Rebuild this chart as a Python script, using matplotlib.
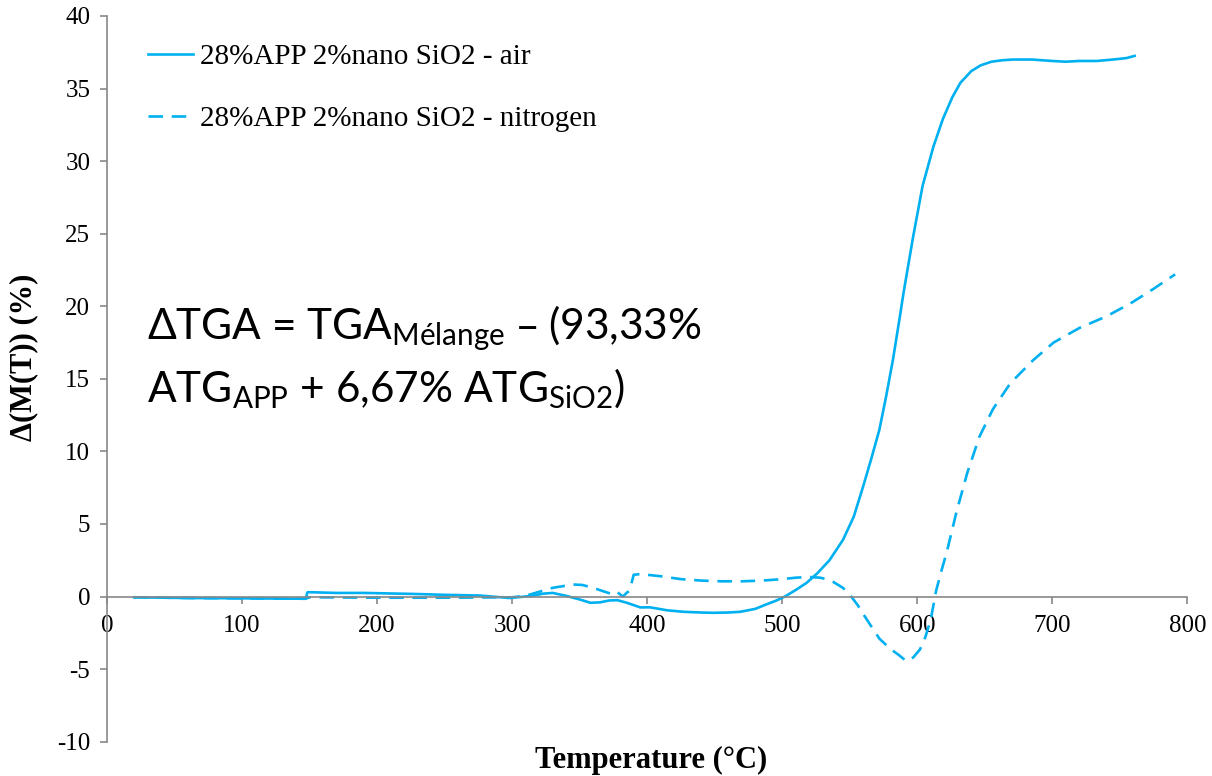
import matplotlib
matplotlib.use("Agg")
import matplotlib.pyplot as plt

# delta M(T) curves
air_T = [20, 60, 100, 147, 148.5, 150, 170, 190, 227, 250,
         276, 298, 315, 323, 330, 340, 350, 358, 365, 372,
         378, 385, 395, 402, 415, 427, 440, 449, 460, 469,
         480, 488, 495, 502, 510, 518, 526, 535, 545, 553,
         560, 566, 572, 577, 582, 587, 590, 597, 604, 612,
         619, 626, 632, 640, 647, 655, 663, 671, 685, 700,
         710, 720, 733, 745, 755, 761]
air_dM = [-0.05, -0.1, -0.12, -0.15, 0.3, 0.3, 0.25, 0.25, 0.18, 0.12,
          0.07, -0.1, 0.05, 0.2, 0.25, 0.05, -0.2, -0.43, -0.4, -0.27,
          -0.25, -0.43, -0.75, -0.74, -0.95, -1.05, -1.1, -1.12, -1.1, -1.05,
          -0.85, -0.55, -0.3, 0.0, 0.45, 0.94, 1.6, 2.5, 3.9, 5.5,
          7.6, 9.5, 11.5, 13.8, 16.3, 19.2, 21.0, 24.8, 28.3, 31.0,
          32.9, 34.4, 35.4, 36.2, 36.6, 36.85, 36.95, 37.0, 37.0, 36.9,
          36.85, 36.9, 36.9, 37.0, 37.1, 37.25]

n2_T = [20, 60, 100, 147, 150, 200, 250, 300, 310, 319,
        330, 345, 352, 360, 368, 375, 378, 382, 385, 387,
        390, 395, 410, 425, 440, 455, 470, 485, 500, 510,
        520, 528, 533, 538, 545, 550, 556, 560, 567, 572,
        580, 586, 592, 597, 602, 606, 610, 614, 618, 622,
        629, 637, 646, 656, 669, 686, 701, 720, 740, 758,
        775, 791]
n2_dM = [-0.05, -0.1, -0.12, -0.15, -0.05, -0.08, -0.08, -0.05, 0.05, 0.3,
         0.6, 0.83, 0.8, 0.6, 0.35, 0.14, 0.3, 0.0, 0.27, 0.4,
         1.5, 1.55, 1.4, 1.2, 1.1, 1.05, 1.05, 1.1, 1.2, 1.3,
         1.35, 1.3, 1.2, 1.0, 0.6, 0.14, -0.6, -1.2, -2.2, -2.9,
         -3.6, -4.0, -4.45, -4.2, -3.65, -2.8, -1.6, 0.4, 1.8, 3.1,
         5.8, 8.5, 11.0, 12.9, 14.7, 16.3, 17.5, 18.5, 19.3, 20.2,
         21.2, 22.2]

labels = ["28%APP 2%nano SiO2 - air", "28%APP 2%nano SiO2 - nitrogen"]
xticks = [0, 100, 200, 300, 400, 500, 600, 700, 800]
yticks = [-10, -5, 0, 5, 10, 15, 20, 25, 30, 35, 40]

blue = "#00B0F0"
grey = "#888888"
serif = "Liberation Serif"

fig = plt.figure(figsize=(12.12, 7.76), dpi=100)
ax = fig.add_axes([0.0883, 0.0442, 0.8913, 0.9352])

ax.plot(air_T, air_dM, color=blue, lw=1.9, label=labels[0])
ax.plot(n2_T, n2_dM, color=blue, lw=1.9, ls=(0, (5.5, 3.3)), label=labels[1])

# spine position first, it resets the ticks
for s in ["top", "right"]:
    ax.spines[s].set_visible(False)
ax.spines["bottom"].set_position(("data", 0))
for s in ["bottom", "left"]:
    ax.spines[s].set_color(grey)
    ax.spines[s].set_linewidth(1.2)

ax.set_xlim(0, 800)
ax.set_ylim(-10, 40)
ax.set_xticks(xticks)
ax.set_yticks(yticks)
ax.set_xticklabels([str(t) for t in xticks], fontfamily=serif, fontsize=18)
ax.set_yticklabels([str(t) for t in yticks], fontfamily=serif, fontsize=18)
ax.tick_params(axis="both", direction="out", length=5, width=1.2, color=grey)
ax.tick_params(axis="x", pad=8)
ax.tick_params(axis="y", pad=7)

ax.set_xlabel("Temperature (\u00b0C)", fontfamily=serif, fontsize=22, fontweight="bold")
ax.set_ylabel("\u0394(M(T)) (%)", fontfamily=serif, fontsize=22, fontweight="bold")
ax.xaxis.set_label_coords(0.5036, -0.006)
ax.yaxis.set_label_coords(-0.064, 0.53)

leg = ax.legend(loc="upper left", bbox_to_anchor=(148 / 1212, 1 - 44 / 776),
                bbox_transform=fig.transFigure, frameon=False, borderpad=0,
                borderaxespad=0, handlelength=1.55, handletextpad=0.25,
                labelspacing=1.2, prop={"family": serif, "size": 21})

plt.rcParams["mathtext.default"] = "regular"
fam = ["Lato", "DejaVu Sans"]
fig.text(147 / 1212, 1 - 339 / 776, "\u0394TGA = TGA$_{M\u00e9lange}$ \u2013 (93,33%",
         family=fam, fontsize=30.5, va="baseline", ha="left")
fig.text(147 / 1212, 1 - 402 / 776, "ATG$_{APP}$ + 6,67% ATG$_{SiO2}$)",
         family=fam, fontsize=30.5, va="baseline", ha="left")

fig.savefig("out.png", dpi=100)
